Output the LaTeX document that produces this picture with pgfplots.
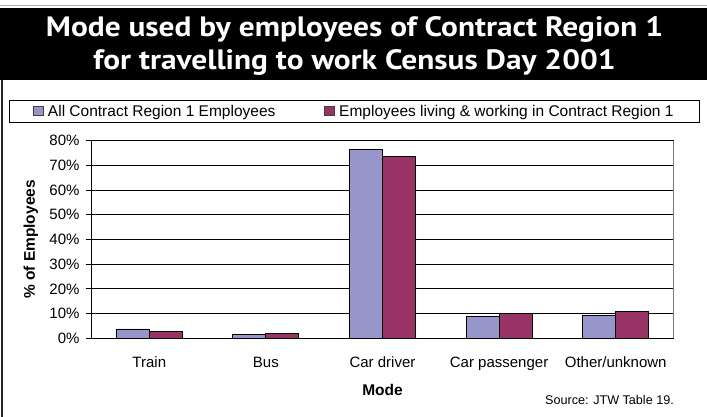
\documentclass[border=0pt]{standalone}
\usepackage{pgfplots}
\pgfplotsset{compat=1.18}
\usepackage{fontspec}
\setmainfont{Liberation Sans}
\newfontfamily\titlefont{PT Sans}
\definecolor{serA}{RGB}{150,150,202}
\definecolor{serB}{RGB}{153,51,102}

\begin{document}
\begin{tikzpicture}[x=1pt,y=1pt]
\useasboundingbox (0,0) rectangle (707,417);
% title band
\draw[gray!60, line width=1pt] (0,411) -- (707,411);
\fill[black] (0,337) rectangle (707,409);
\draw[black!85, line width=2pt] (1.5,0) -- (1.5,337);
\node[anchor=base, text=white, inner sep=0pt, font=\titlefont\bfseries\fontsize{28}{32}\selectfont]
  at (354.5,380) {\scalebox{1.12}[1]{Mode used by employees of Contract Region 1}};
\node[anchor=base, text=white, inner sep=0pt, font=\titlefont\bfseries\fontsize{28}{32}\selectfont]
  at (354.5,347) {\scalebox{1.12}[1]{for travelling to work Census Day 2001}};

\begin{axis}[
  at={(91pt,78.7pt)}, anchor=south west, scale only axis,
  width=583pt, height=197.6pt,
  ybar=0pt, bar width=33pt,
  xmin=-0.5, xmax=4.5, ymin=0, ymax=80,
  axis x line*=bottom, axis y line*=left,
  axis line style={black, line width=0.9pt},
  ytick={0,10,...,80},
  yticklabels={0\%,10\%,20\%,30\%,40\%,50\%,60\%,70\%,80\%},
  xtick={0,1,2,3,4},
  xticklabels={Train,Bus,Car driver,Car passenger,Other/unknown},
  minor xtick={-0.5,0.5,1.5,2.5,3.5,4.5},
  tick align=outside,
  major tick length=5pt, minor tick length=5pt,
  xtick style={draw=none},
  minor x tick style={black, line width=0.9pt},
  ytick style={black, line width=0.9pt},
  ymajorgrids, grid style={black, line width=0.9pt},
  tick label style={font=\fontsize{15}{18}\selectfont},
  xticklabel style={anchor=base, yshift=-24pt},
  yticklabel style={anchor=east, xshift=-3pt},
  xlabel={Mode}, ylabel={\% of Employees},
  every axis x label/.style={at={(axis description cs:0.5,-0.287)}, anchor=base,
    font=\bfseries\fontsize{15.5}{18}\selectfont},
  every axis y label/.style={at={(axis description cs:-0.103,0.5)}, rotate=90, anchor=center,
    font=\bfseries\fontsize{15.5}{18}\selectfont},
  legend columns=2,
  legend cell align=left,
  legend style={at={(axis description cs:0.4517,1.1485)}, anchor=center,
    draw=black, line width=0.9pt, font=\fontsize{15.5}{18}\selectfont,
    inner xsep=24pt, inner ysep=3pt,
    nodes={inner sep=2pt},
    /tikz/every odd column/.append style={column sep=2.5pt},
    /tikz/every even column/.append style={column sep=47pt}},
  legend image code/.code={\draw[#1, draw=black!75, line width=0.8pt] (0pt,-4.5pt) rectangle (9.5pt,5pt);},
]
\addplot[fill=serA, draw=black, line width=0.8pt] coordinates {(0,3.8) (1,1.5) (2,76.6) (3,8.7) (4,9.3)};
\addlegendentry{All Contract Region 1 Employees}
\addplot[fill=serB, draw=black, line width=0.8pt] coordinates {(0,2.8) (1,2.0) (2,73.8) (3,10.1) (4,11.0)};
\addlegendentry{Employees living \& working in Contract Region 1}
\draw[gray, line width=1.2pt] (rel axis cs:1,0) -- (rel axis cs:1,1);
\end{axis}

\node[anchor=base east, inner sep=0pt, font=\fontsize{12.6}{15}\selectfont] at (674,12) {Source: JTW Table 19.};
\end{tikzpicture}
\end{document}
